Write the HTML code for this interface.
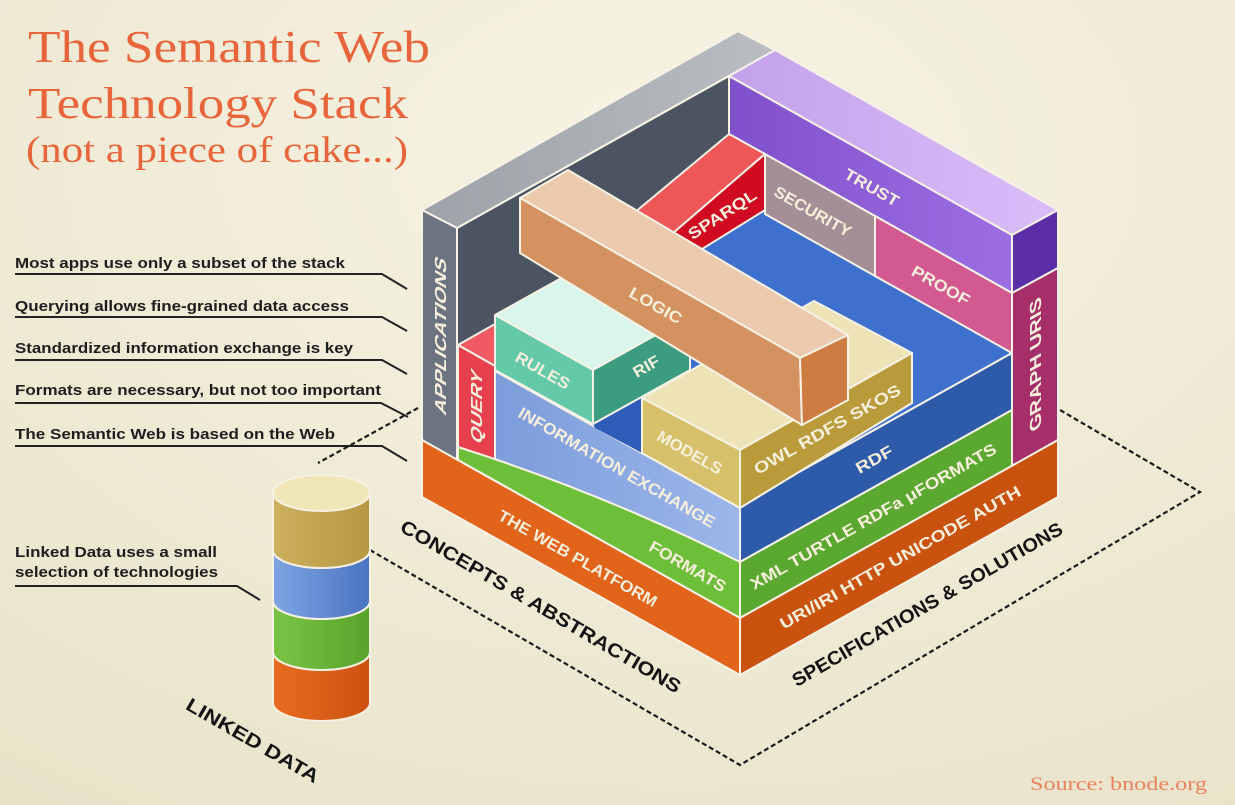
<!DOCTYPE html>
<html><head><meta charset="utf-8">
<style>
html,body{margin:0;padding:0;width:1235px;height:805px;overflow:hidden;background:#f0ebd4;}
svg{display:block}
.lbl{font-family:"Liberation Sans",sans-serif;font-size:16px;font-weight:bold;fill:#f6efdc;text-anchor:middle;}
.ann{font-family:"Liberation Sans",sans-serif;font-weight:bold;font-size:15px;fill:#1e1e1e;}
.gnd{font-family:"Liberation Sans",sans-serif;font-weight:bold;font-size:19px;fill:#141414;text-anchor:middle;}
.ttl{font-family:"Liberation Serif",serif;fill:#e8653b;}
</style></head><body>
<svg width="1235" height="805" viewBox="0 0 1235 805" xmlns="http://www.w3.org/2000/svg">
<defs>
<radialGradient id="bg" cx="0.55" cy="0.2" r="0.95">
<stop offset="0" stop-color="#f7f3e4"/><stop offset="1" stop-color="#e8e3c9"/>
</radialGradient>
<linearGradient id="gTop" x1="0" y1="0" x2="1" y2="0"><stop offset="0" stop-color="#9da2a8"/><stop offset="1" stop-color="#babec2"/></linearGradient>
<linearGradient id="pTop" x1="0" y1="0" x2="1" y2="0"><stop offset="0" stop-color="#c2a1ea"/><stop offset="1" stop-color="#dabdfa"/></linearGradient>
<linearGradient id="trust" x1="0" y1="0" x2="1" y2="0"><stop offset="0" stop-color="#8050cc"/><stop offset="1" stop-color="#9d6ee2"/></linearGradient>
<linearGradient id="info" x1="0" y1="0" x2="1" y2="0"><stop offset="0" stop-color="#7c9cdb"/><stop offset="1" stop-color="#9bb6e9"/></linearGradient>
<linearGradient id="cTan" x1="0" y1="0" x2="1" y2="0"><stop offset="0" stop-color="#cdb05e"/><stop offset="1" stop-color="#b69742"/></linearGradient>
<linearGradient id="cBlue" x1="0" y1="0" x2="1" y2="0"><stop offset="0" stop-color="#7ea4e2"/><stop offset="1" stop-color="#4a74c2"/></linearGradient>
<linearGradient id="cGreen" x1="0" y1="0" x2="1" y2="0"><stop offset="0" stop-color="#7ac444"/><stop offset="1" stop-color="#58a42b"/></linearGradient>
<linearGradient id="cOr" x1="0" y1="0" x2="1" y2="0"><stop offset="0" stop-color="#e86c20"/><stop offset="1" stop-color="#cc520f"/></linearGradient>
</defs>
<rect width="1235" height="805" fill="url(#bg)"/>

<!-- Title -->
<text class="ttl" x="28" y="62" font-size="45" textLength="402" lengthAdjust="spacingAndGlyphs">The Semantic Web</text>
<text class="ttl" x="28" y="118" font-size="44" textLength="380" lengthAdjust="spacingAndGlyphs">Technology Stack</text>
<text class="ttl" x="26" y="162" font-size="37" textLength="382" lengthAdjust="spacingAndGlyphs">(not a piece of cake...)</text>

<!-- dashed ground outline -->
<g fill="none" stroke="#1a1a1a" stroke-width="2.2" stroke-dasharray="5 3">
<polyline points="418,408 318,463"/>
<polyline points="370,550 740,765 1200,492 1060,410"/>
</g>

<!-- annotations -->
<g fill="none" stroke="#222" stroke-width="2">
<polyline points="15,274 382,274 407,289"/>
<polyline points="15,317 382,317 407,331"/>
<polyline points="15,360 382,360 407,374"/>
<polyline points="15,403 381,403 408,417"/>
<polyline points="15,446 382,446 407,461"/>
<polyline points="15,586 237,586 260,600"/>
</g>
<text class="ann" x="15" y="268" textLength="330" lengthAdjust="spacingAndGlyphs">Most apps use only a subset of the stack</text>
<text class="ann" x="15" y="311" textLength="334" lengthAdjust="spacingAndGlyphs">Querying allows fine-grained data access</text>
<text class="ann" x="15" y="353" textLength="338" lengthAdjust="spacingAndGlyphs">Standardized information exchange is key</text>
<text class="ann" x="15" y="395" textLength="366" lengthAdjust="spacingAndGlyphs">Formats are necessary, but not too important</text>
<text class="ann" x="15" y="439" textLength="320" lengthAdjust="spacingAndGlyphs">The Semantic Web is based on the Web</text>
<text class="ann" x="15" y="557" textLength="202" lengthAdjust="spacingAndGlyphs">Linked Data uses a small</text>
<text class="ann" x="15" y="577" textLength="203" lengthAdjust="spacingAndGlyphs">selection of technologies</text>

<!-- cylinder -->
<g stroke="#f6f1e2" stroke-width="2">
<path d="M273,652 L273,703 A48.5,18 0 0 0 370,703 L370,652 A48.5,18 0 0 1 273,652 Z" fill="url(#cOr)"/>
<path d="M273,601 L273,652 A48.5,18 0 0 0 370,652 L370,601 A48.5,18 0 0 1 273,601 Z" fill="url(#cGreen)"/>
<path d="M273,550 L273,601 A48.5,18 0 0 0 370,601 L370,550 A48.5,18 0 0 1 273,550 Z" fill="url(#cBlue)"/>
<path d="M273,493 L273,550 A48.5,18 0 0 0 370,550 L370,493 A48.5,18 0 0 0 273,493 Z" fill="url(#cTan)"/>
<ellipse cx="321.5" cy="493" rx="48.5" ry="18" fill="#efe7b8"/>
</g>

<!-- ground labels -->
<text class="gnd" transform="translate(541,606) rotate(30.5)" y="7" textLength="322" lengthAdjust="spacingAndGlyphs">CONCEPTS &amp; ABSTRACTIONS</text>
<text class="gnd" transform="translate(927,604) rotate(-30)" y="7" textLength="309" lengthAdjust="spacingAndGlyphs">SPECIFICATIONS &amp; SOLUTIONS</text>
<text class="gnd" transform="translate(253,740) rotate(30)" y="7" textLength="150" lengthAdjust="spacingAndGlyphs">LINKED DATA</text>

<!-- stack -->
<g stroke="#f7f2e6" stroke-width="2" stroke-linejoin="round">
<polygon points="457,228 729,76 729,330 457,480" fill="#4c5461"/>
<polygon points="422,210 738,31 775,50 457,228" fill="url(#gTop)"/>
<polygon points="729,76 775,50 1058,210 1012,235" fill="url(#pTop)"/>
<polygon points="422,210 457,228 457,460 422,440" fill="#6c7482"/>
<polygon points="729,76 1012,235 1012,293 729,134" fill="url(#trust)"/>
<polygon points="1012,235 1058,210 1058,268 1012,293" fill="#5a2ea6"/>
<polygon points="1012,293 1058,268 1058,440 1012,466" fill="#a62f6a"/>
<polygon points="493,367 765,210 1012,353 740,505" fill="#3e70cd"/>
<polygon points="765,154 875,216 875,276 765,214" fill="#a58f97"/>
<polygon points="875,216 1012,293 1012,353 875,276" fill="#d35a91"/>
<polygon points="628,218 729,134 765,154 665,240" fill="#ef5657"/>
<polygon points="665,240 765,154 765,210 665,272" fill="#d00a20"/>
<polygon points="458,345 553,291 590,312 495,366" fill="#ef5a64"/>
<polygon points="458,345 495,366 495,462 458,450" fill="#e6404c"/>
<polygon points="495,371 740,508 740,570 495,470" fill="url(#info)"/>
<polygon points="740,505 1012,353 1012,410 740,562" fill="#2e5ba9"/>
<polygon points="740,562 1012,410 1012,466 740,618" fill="#5ba831"/>
<path d="M458,447 Q600,492 740,562 L740,618 L458,460 Z" fill="#6dbf3a"/>
<polygon points="422,440 740,618 740,675 422,497" fill="#e2631a"/>
<polygon points="740,618 1058,440 1058,497 740,675" fill="#c9520f"/>
<polygon points="593,424 642,397 642,453 595,428" fill="#2f5cb8" stroke="none"/>
<polygon points="642,398 814,301 912,353 740,450" fill="#ede3b6"/>
<polygon points="642,398 740,450 740,508 642,453" fill="#d7c06a"/>
<polygon points="740,450 912,353 912,403 740,508" fill="#b99b3b"/>
<polygon points="495,315 592,261 690,316 593,370" fill="#d9f5ec"/>
<polygon points="495,315 593,370 593,424 495,370" fill="#63c9a9"/>
<polygon points="593,370 690,316 690,370 593,424" fill="#3b9c80"/>
<polygon points="520,198 568,170 848,335 800,358" fill="#ebcaad"/>
<polygon points="520,198 800,358 802,425 520,253" fill="#d3925f"/>
<polygon points="800,358 848,335 848,400 802,425" fill="#cf7c43"/>
</g>

<!-- face labels -->
<text class="lbl" transform="translate(440,335) rotate(-90) skewX(-29.25)" y="6" textLength="156" lengthAdjust="spacingAndGlyphs">APPLICATIONS</text>
<text class="lbl" transform="translate(476,406) rotate(-90) skewX(-29.25)" y="6" textLength="72" lengthAdjust="spacingAndGlyphs">QUERY</text>
<text class="lbl" transform="translate(1035,365) rotate(-90) skewX(29.25)" y="6" textLength="132" lengthAdjust="spacingAndGlyphs">GRAPH URIS</text>
<text class="lbl" transform="translate(872,187) rotate(29.5)" y="6" textLength="60" lengthAdjust="spacingAndGlyphs">TRUST</text>
<text class="lbl" transform="translate(813,211) rotate(29.5)" y="6" textLength="86" lengthAdjust="spacingAndGlyphs">SECURITY</text>
<text class="lbl" transform="translate(941,285) rotate(29.5)" y="6" textLength="64" lengthAdjust="spacingAndGlyphs">PROOF</text>
<text class="lbl" transform="translate(722,214) rotate(-33)" y="6" textLength="78" lengthAdjust="spacingAndGlyphs">SPARQL</text>
<text class="lbl" transform="translate(656,305) rotate(29.5)" y="6" textLength="58" lengthAdjust="spacingAndGlyphs">LOGIC</text>
<text class="lbl" transform="translate(543,370) rotate(29.5)" y="6" textLength="60" lengthAdjust="spacingAndGlyphs">RULES</text>
<text class="lbl" transform="translate(646,366) rotate(-29.5)" y="6" textLength="28" lengthAdjust="spacingAndGlyphs">RIF</text>
<text class="lbl" transform="translate(617,467) rotate(30)" y="6" textLength="224" lengthAdjust="spacingAndGlyphs">INFORMATION EXCHANGE</text>
<text class="lbl" transform="translate(690,452) rotate(29.5)" y="6" textLength="72" lengthAdjust="spacingAndGlyphs">MODELS</text>
<text class="lbl" transform="translate(827,429) rotate(-29.5)" y="6" textLength="166" lengthAdjust="spacingAndGlyphs">OWL  RDFS  SKOS</text>
<text class="lbl" transform="translate(874,459) rotate(-29.5)" y="6" textLength="40" lengthAdjust="spacingAndGlyphs">RDF</text>
<text class="lbl" transform="translate(688,566) rotate(30)" y="6" textLength="86" lengthAdjust="spacingAndGlyphs">FORMATS</text>
<text class="lbl" transform="translate(873,516) rotate(-29.5)" y="6" textLength="280" lengthAdjust="spacingAndGlyphs">XML TURTLE RDFa μFORMATS</text>
<text class="lbl" transform="translate(578,558) rotate(29.5)" y="6" textLength="180" lengthAdjust="spacingAndGlyphs">THE WEB PLATFORM</text>
<text class="lbl" transform="translate(900,557) rotate(-29.5)" y="6" textLength="274" lengthAdjust="spacingAndGlyphs">URI/IRI  HTTP  UNICODE  AUTH</text>

<text class="ttl" x="1030" y="790" font-size="19" style="fill:#e8825f" textLength="177" lengthAdjust="spacingAndGlyphs">Source: bnode.org</text>
</svg>
</body></html>
